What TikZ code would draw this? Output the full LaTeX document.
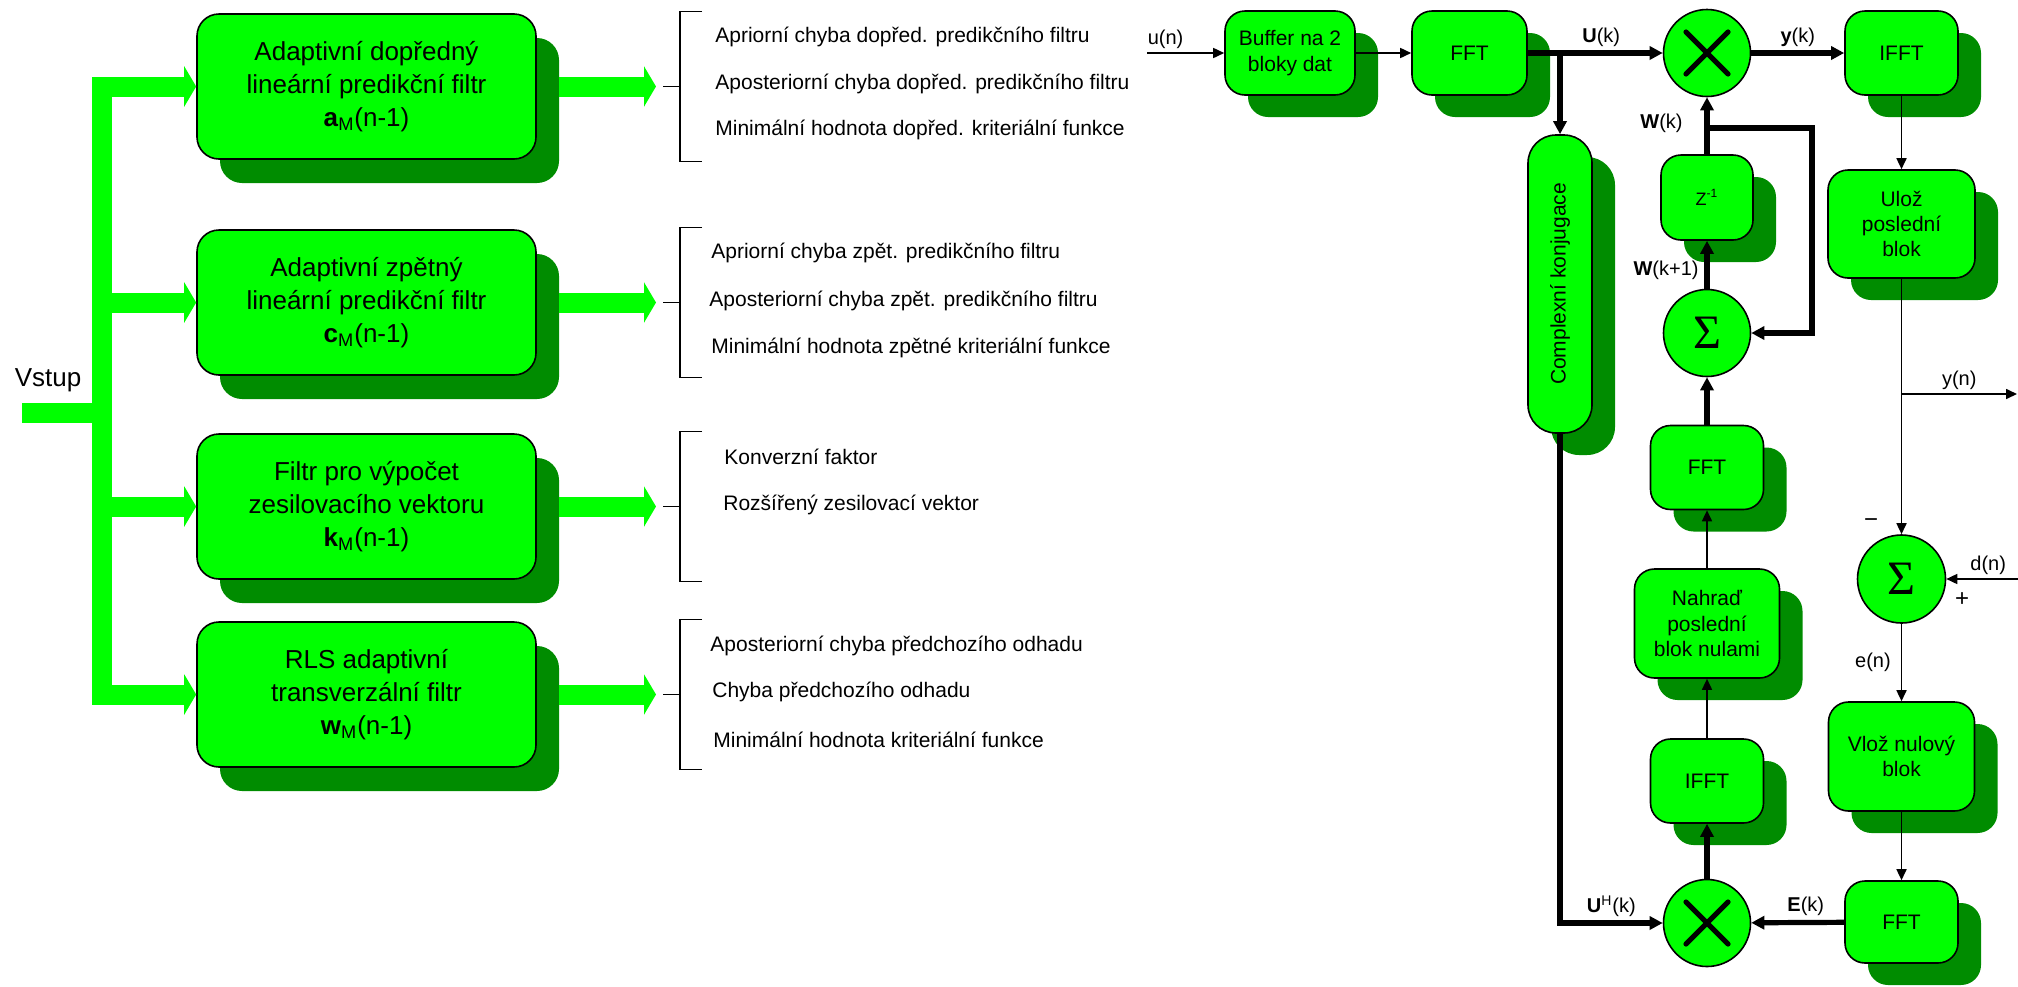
\documentclass[tikz,border=0pt]{standalone}
\usepackage[no-math]{fontspec}
\setmainfont{Liberation Sans}
\newfontfamily\sigmafont{Liberation Serif}
\usetikzlibrary{arrows.meta,shadows}
\definecolor{zelena}{RGB}{0,255,0}
\definecolor{stin}{RGB}{0,140,0}

\begin{document}
\begin{tikzpicture}[x=0.5pt,y=-0.5pt,
        >={Triangle[length=5.5pt,width=5pt]},
        filtr/.style={draw,line width=0.8pt,fill=zelena,rounded corners=11pt,
            minimum width=169.5pt,minimum height=72.5pt,align=center,
            font=\fontsize{13}{16.5}\selectfont,
            drop shadow={shadow xshift=11.5pt,shadow yshift=-12pt,fill=stin,opacity=1}},
        blok/.style={draw,line width=0.8pt,fill=zelena,rounded corners=10pt,
            minimum width=56.5pt,minimum height=42pt,align=center,inner sep=1pt,
            font=\fontsize{10.5}{12.6}\selectfont,
            drop shadow={shadow xshift=11.5pt,shadow yshift=-11pt,fill=stin,opacity=1}},
        kruh/.style={circle,draw,line width=0.8pt,fill=zelena,minimum size=43.5pt,inner sep=0pt,
            font=\sigmafont\fontsize{24}{24}\selectfont},
        tenka/.style={line width=0.8pt,->},
        tlusta/.style={line width=2.6pt,-{Triangle[length=6.5pt,width=6.5pt]}},
        zelsipka/.style={zelena,line width=10pt,-{Triangle[length=6pt,width=20pt]}},
        popis/.style={font=\fontsize{10}{12}\selectfont,inner sep=2pt},
        vystup/.style={font=\fontsize{10.5}{12}\selectfont,anchor=west,inner sep=0pt}]
        \useasboundingbox (0,0) rectangle (2018,986);
        \node[filtr] (f1) at (366.5,86.5) {Adaptivní dopředný\\lineární predikční filtr\\\textbf{a}\textsubscript{M}(n-1)};
        \node[filtr] (f2) at (366.5,302.5) {Adaptivní zpětný\\lineární predikční filtr\\\textbf{c}\textsubscript{M}(n-1)};
        \node[filtr] (f3) at (366.5,506.5) {Filtr pro výpočet\\zesilovacího vektoru\\\textbf{k}\textsubscript{M}(n-1)};
        \node[filtr] (f4) at (366.5,694.5) {RLS adaptivní\\transverzální filtr\\\textbf{w}\textsubscript{M}(n-1)};
        \node[font=\fontsize{13}{15}\selectfont] (vstup) at (48,380) {Vstup};
        \coordinate (vstin) at (22,413);
        \coordinate (kmen1) at (102,86.5);
        \coordinate (kmen4) at (102,694.5);
        \draw[zelena,line width=10pt,line cap=rect] (kmen1) -- (kmen4);
        \draw[zelena,line width=10pt] (vstin) -- ([xshift=5pt]kmen1 |- vstin);
        \foreach \f/\y in {f1/86.5,f2/302.5,f3/506.5,f4/694.5}{
            \coordinate (\f z) at (663,\y);
            \draw[zelsipka] (kmen1 |- \f.west) -- (\f.west);
            \draw[zelsipka] ([xshift=11pt]\f.east) -- ([xshift=-3.5pt]\f z);
            \draw[line width=0.8pt] (\f z) -- (680,\y);
            \draw[line width=0.8pt] (702,\y-75) -- (680,\y-75) -- (680,\y+75) -- (702,\y+75);
        }
        \node[vystup] (t11) at (715,36.5) {Apriorní chyba dopřed. predikčního filtru};
        \node[vystup] (t12) at (715,83.5) {Aposteriorní chyba dopřed. predikčního filtru};
        \node[vystup] (t13) at (715,129.5) {Minimální hodnota dopřed. kriteriální funkce};
        \node[vystup] (t21) at (711,252.5) {Apriorní chyba zpět. predikčního filtru};
        \node[vystup] (t22) at (709,300.5) {Aposteriorní chyba zpět. predikčního filtru};
        \node[vystup] (t23) at (711,347.5) {Minimální hodnota zpětné kriteriální funkce};
        \node[vystup] (t31) at (724,457) {Konverzní faktor};
        \node[vystup] (t32) at (723,505) {Rozšířený zesilovací vektor};
        \node[vystup] (t41) at (710,646) {Aposteriorní chyba předchozího odhadu};
        \node[vystup] (t42) at (712,692) {Chyba předchozího odhadu};
        \node[vystup] (t43) at (713,740) {Minimální hodnota kriteriální funkce};
        \node[blok,minimum width=65pt] (buf) at (1290,53) {Buffer na 2\\bloky dat};
        \node[blok,minimum width=57.5pt] (fft1) at (1469.5,53) {FFT};
        \node[blok,minimum width=32pt,minimum height=149pt,rounded corners=14pt] (conj) at (1560,284) {};
        \node[rotate=90,font=\fontsize{10.5}{12}\selectfont] (conjtext) at (conj) {Complexní konjugace};
        \node[kruh] (mul1) at (1707,53) {};
        \node[blok] (ifft1) at (1901.5,53) {IFFT};
        \node[blok,minimum width=73.5pt,minimum height=54pt] (uloz) at (1901.5,224) {Ulož\\poslední\\blok};
        \node[blok,minimum width=46pt,minimum height=42.5pt,font=\fontsize{9}{11}\selectfont] (zinv) at (1707,197.5) {Z\textsuperscript{-1}};
        \node[kruh] (sum1) at (1707,333) {Σ};
        \node[blok] (fft2) at (1707,467.5) {FFT};
        \node[blok,minimum width=72.5pt,minimum height=54.5pt] (nahrad) at (1707,623.5) {Nahraď\\poslední\\blok nulami};
        \node[blok] (ifft2) at (1707,781) {IFFT};
        \node[kruh] (mul2) at (1707,923) {};
        \node[kruh,minimum size=44pt] (sum2) at (1901.5,579) {Σ};
        \node[blok,minimum width=73pt,minimum height=54.5pt] (vloz) at (1901.5,756.5) {Vlož nulový\\blok};
        \node[blok,minimum height=41pt] (fft3) at (1901.5,922) {FFT};
        \foreach \m in {mul1,mul2}{
            \draw[line width=2.6pt,line cap=round] ([shift={(-21,-21)}]\m.center) -- ([shift={(21,21)}]\m.center);
            \draw[line width=2.6pt,line cap=round] ([shift={(-21,21)}]\m.center) -- ([shift={(21,-21)}]\m.center);
        }
        \coordinate (un) at (1147,53);
        \coordinate (uk) at (1560,53);
        \coordinate (wk) at (1707,128);
        \coordinate (zpet) at (1812,128);
        \coordinate (yn) at (1901.5,394);
        \coordinate (ynkonec) at (2017,394);
        \coordinate (dn) at (2018,579);
        \draw[tenka] (un) -- node[popis,above,pos=0.24]{u(n)} (buf);
        \draw[tenka] (buf) -- (fft1);
        \draw[tlusta] (fft1) -- node[popis,above,xshift=3pt]{\textbf{U}(k)} (mul1);
        \draw[tlusta] (uk) -- (conj);
        \draw[tlusta] (mul1) -- node[popis,above]{\textbf{y}(k)} (ifft1);
        \draw[tenka] (ifft1) -- (uloz);
        \draw[tlusta] (zinv) -- (mul1);
        \draw[tlusta] (wk) -- (zpet) |- (sum1);
        \node[popis,anchor=east] (lwk) at (1687,123) {\textbf{W}(k)};
        \draw[tlusta] (sum1) -- (zinv);
        \node[popis,anchor=east] (lwk1) at (1703,270) {\textbf{W}(k+1)};
        \draw[tlusta] (fft2) -- (sum1);
        \draw[tenka] (nahrad) -- (fft2);
        \draw[tenka] (ifft2) -- (nahrad);
        \draw[tlusta] (mul2) -- (ifft2);
        \draw[tlusta] (conj) |- node[popis,above,pos=0.75]{\textbf{U}\textsuperscript{H}(k)} (mul2);
        \draw[tlusta] (fft3) -- node[popis,above,xshift=4pt]{\textbf{E}(k)} (mul2);
        \draw[tenka] (vloz) -- (fft3);
        \draw[tenka] (sum2) -- node[popis,left,xshift=-3pt]{e(n)} (vloz);
        \draw[tenka] (uloz) -- (sum2);
        \draw[tenka] (yn) -- node[popis,above]{y(n)} (ynkonec);
        \draw[tenka] (dn) -- node[popis,above,xshift=3pt]{d(n)} (sum2);
        \node[font=\fontsize{12}{12}\selectfont] (minus) at (1871,523) {−};
        \node[font=\fontsize{12}{12}\selectfont] (plus) at (1962,600) {+};
\end{tikzpicture}
\end{document}
